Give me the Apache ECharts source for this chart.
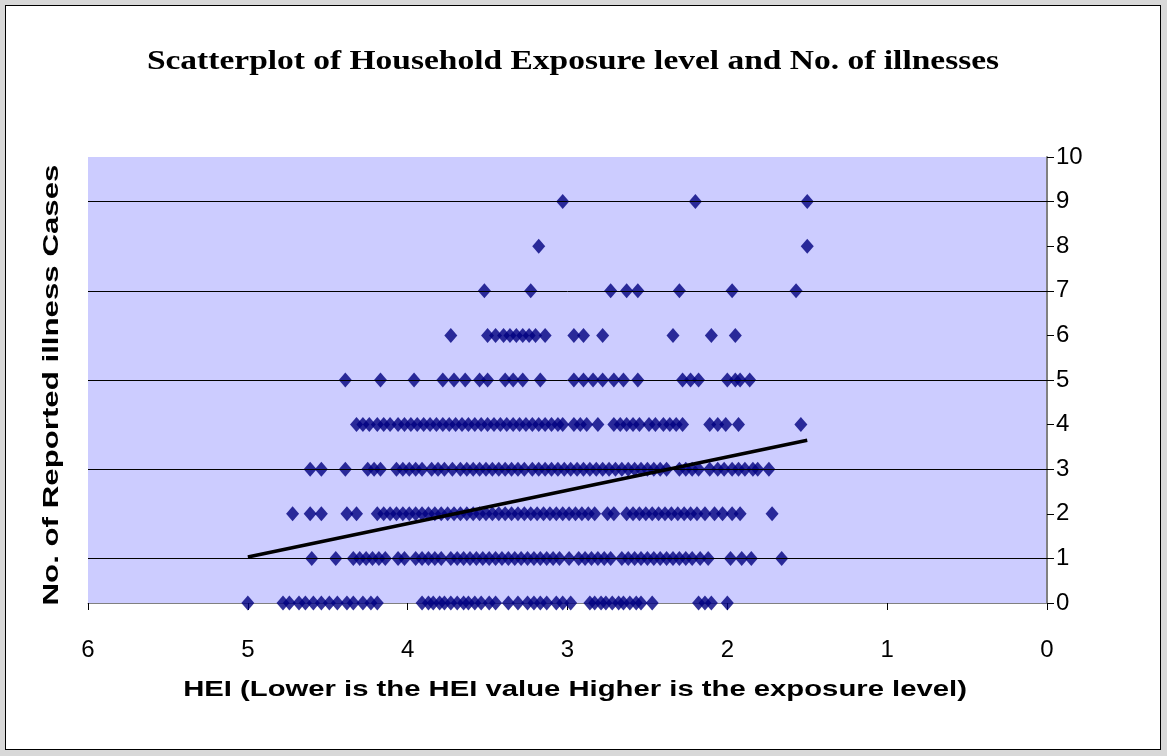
<!DOCTYPE html>
<html><head><meta charset="utf-8">
<script src="https://cdn.jsdelivr.net/npm/echarts@6/dist/echarts.min.js"></script>
<style>
html,body{margin:0;padding:0;background:#d8d8d8;}
#frame{position:absolute;left:5px;top:5px;width:1154px;height:743px;background:#fff;border:1px solid #000;}
#c{position:absolute;left:0;top:0;width:1167px;height:756px;}
</style>
</head><body><div id="frame"></div><div id="c"></div>
<script>
const titleText = "Scatterplot of Household Exposure level and No. of illnesses";
const xName = "HEI (Lower is the HEI value Higher is the exposure level)";
const yName = "No. of Reported illness Cases";
const gridLevels = [1, 3, 5, 7, 9];
const row0 = [5.00,4.78,4.74,4.68,4.64,4.59,4.54,4.49,4.44,4.38,4.34,4.28,4.23,4.19,3.91,3.87,3.84,3.80,3.77,3.73,3.69,3.65,3.62,3.58,3.54,3.49,3.45,3.37,3.31,3.25,3.21,3.17,3.13,3.07,3.03,2.98,2.86,2.83,2.79,2.76,2.72,2.68,2.65,2.61,2.57,2.54,2.47,2.18,2.14,2.10,2.00];
const row1 = [4.60,4.45,4.34,4.30,4.26,4.22,4.18,4.14,4.06,4.02,3.95,3.91,3.87,3.83,3.79,3.73,3.69,3.65,3.61,3.57,3.53,3.49,3.45,3.41,3.37,3.33,3.29,3.25,3.21,3.17,3.13,3.09,3.05,2.99,2.93,2.89,2.85,2.81,2.77,2.73,2.66,2.62,2.58,2.54,2.50,2.46,2.42,2.38,2.34,2.30,2.26,2.22,2.17,2.12,1.98,1.91,1.85,1.66];
const row2 = [4.72,4.61,4.54,4.38,4.32,4.19,4.15,4.11,4.07,4.03,3.99,3.95,3.91,3.87,3.83,3.79,3.75,3.71,3.67,3.63,3.59,3.55,3.51,3.47,3.43,3.39,3.35,3.31,3.27,3.23,3.19,3.15,3.11,3.07,3.03,2.99,2.95,2.91,2.87,2.83,2.75,2.71,2.63,2.59,2.55,2.51,2.47,2.43,2.39,2.35,2.31,2.27,2.23,2.19,2.14,2.08,2.03,1.97,1.92,1.72];
const row3 = [4.61,4.54,4.39,4.25,4.21,4.17,4.07,4.03,3.99,3.95,3.91,3.85,3.81,3.77,3.72,3.67,3.63,3.59,3.55,3.51,3.47,3.43,3.39,3.35,3.31,3.27,3.22,3.18,3.14,3.10,3.06,3.02,2.98,2.94,2.90,2.86,2.82,2.78,2.74,2.70,2.66,2.62,2.58,2.54,2.50,2.46,2.42,2.38,2.30,2.26,2.22,2.18,2.11,2.06,2.02,1.97,1.93,1.89,1.84,1.81,1.74];
const row4 = [4.32,4.28,4.24,4.19,4.15,4.11,4.06,4.02,3.98,3.94,3.90,3.86,3.82,3.78,3.74,3.70,3.66,3.62,3.58,3.54,3.50,3.46,3.42,3.38,3.34,3.30,3.26,3.22,3.18,3.14,3.10,3.06,3.03,2.96,2.92,2.88,2.81,2.71,2.67,2.63,2.59,2.55,2.49,2.45,2.40,2.36,2.32,2.28,2.11,2.06,2.01,1.93,1.54];
const row5 = [4.39,4.17,3.96,3.78,3.71,3.64,3.55,3.50,3.39,3.34,3.28,3.17,2.96,2.90,2.84,2.78,2.71,2.65,2.56,2.28,2.23,2.18,2.00,1.95,1.92,1.86];
const row6 = [3.73,3.50,3.45,3.40,3.36,3.32,3.28,3.24,3.20,3.14,2.96,2.90,2.78,2.34,2.10,1.95];
const row7 = [3.52,3.23,2.73,2.63,2.56,2.30,1.97,1.57];
const row8 = [3.18,1.50];
const row9 = [3.03,2.20,1.50];
const trendX = [5.0, 1.5];
const trendY = [1.03, 3.65];

const rows = [row0,row1,row2,row3,row4,row5,row6,row7,row8,row9];
const pts = [];
rows.forEach((r, lvl) => r.forEach(x => pts.push([x, lvl])));

const chart = echarts.init(document.getElementById('c'));
chart.setOption({
  backgroundColor: 'transparent',
  animation: false,
  grid: { left: 88, right: 120, top: 157, bottom: 153, show: true, backgroundColor: '#ccccff', borderWidth: 0 },
  xAxis: {
    type: 'value', min: 0, max: 6, interval: 1, inverse: true,
    axisLine: { show: true, lineStyle: { color: '#808080', width: 1 } },
    axisTick: { show: true, length: 7, lineStyle: { color: '#000' } },
    axisLabel: { color: '#000', fontSize: 24, fontFamily: 'Liberation Sans', margin: 35 },
    splitLine: { show: false }
  },
  yAxis: {
    type: 'value', min: 0, max: 10, interval: 1, position: 'right',
    axisLine: { show: true, lineStyle: { color: '#808080', width: 2 } },
    axisTick: { show: true, length: 7, lineStyle: { color: '#000' } },
    axisLabel: { color: '#000', fontSize: 24, fontFamily: 'Liberation Sans', margin: 9 },
    splitLine: { show: false }
  },
  graphic: [
    { type: 'text', x: 573, y: 62, scaleX: 1.24, style: { text: titleText, font: 'bold 27px "Liberation Serif"', fill: '#000', align: 'center', verticalAlign: 'middle' } },
    { type: 'text', x: 575, y: 690, scaleX: 1.33, style: { text: xName, font: 'bold 22px "Liberation Sans"', fill: '#000', align: 'center', verticalAlign: 'middle' } },
    { type: 'text', x: 52, y: 385, rotation: Math.PI / 2, scaleX: 1.42, style: { text: yName, font: 'bold 22px "Liberation Sans"', fill: '#000', align: 'center', verticalAlign: 'middle' } }
  ],
  series: [
    {
      type: 'scatter', data: pts, symbol: 'diamond', symbolSize: [13, 15],
      itemStyle: { color: '#000080' },
      markLine: {
        silent: true, symbol: 'none', label: { show: false },
        lineStyle: { color: '#000', width: 1, type: 'solid' },
        data: gridLevels.map(v => ({ yAxis: v }))
      },
      z: 3
    },
    {
      type: 'line', data: trendX.map((x, i) => [x, trendY[i]]), symbol: 'none',
      lineStyle: { color: '#000', width: 3.5 }, z: 4
    }
  ]
});
</script></body></html>
